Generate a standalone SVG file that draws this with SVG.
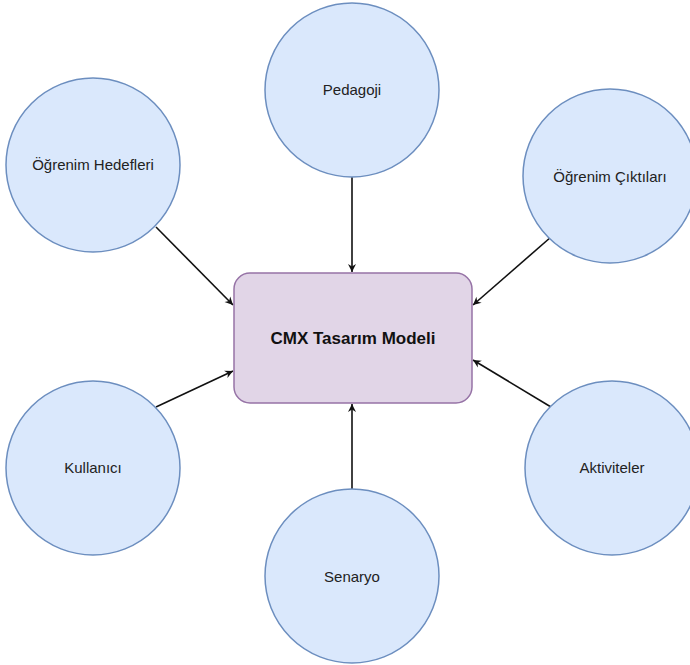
<svg xmlns="http://www.w3.org/2000/svg" width="690" height="665" viewBox="0 0 690 665">
<defs>
<marker id="arr" markerWidth="10" markerHeight="10" refX="9" refY="5" orient="auto" markerUnits="userSpaceOnUse">
<path d="M1,1 L9,5 L1,9 L3.5,5 Z" fill="#111"/>
</marker>
</defs>
<style>
.c{fill:#dae8fc;stroke:#6c8ebf;stroke-width:1.5}
.r{fill:#e1d5e7;stroke:#9673a6;stroke-width:1.5}
.t{font-family:"Liberation Sans",Arial,sans-serif;font-size:15px;fill:#222;text-anchor:middle;dominant-baseline:central}
.b{font-family:"Liberation Sans",Arial,sans-serif;font-size:17px;font-weight:bold;fill:#111;text-anchor:middle;dominant-baseline:central}
.e{stroke:#111;stroke-width:1.6;fill:none;marker-end:url(#arr)}
</style>
<rect width="690" height="665" fill="#fff"/>
<g id="connectors">
<line class="e" x1="352" y1="177" x2="352" y2="272"/>
<line class="e" x1="156" y1="227" x2="233" y2="305"/>
<line class="e" x1="551" y1="237" x2="473" y2="305"/>
<line class="e" x1="156" y1="407" x2="233" y2="371"/>
<line class="e" x1="352" y1="490" x2="352" y2="404"/>
<line class="e" x1="551" y1="407" x2="473" y2="360"/>
</g>
<g id="center">
<rect class="r" x="234" y="273" width="238" height="130" rx="16"/>
<text class="b" x="353" y="338">CMX Tasarım Modeli</text>
</g>
<g id="pedagoji">
<circle class="c" cx="352" cy="90" r="87"/>
<text class="t" x="352" y="89">Pedagoji</text>
</g>
<g id="hedefleri">
<circle class="c" cx="93" cy="165" r="87"/>
<text class="t" x="93" y="164">Öğrenim Hedefleri</text>
</g>
<g id="ciktilari">
<circle class="c" cx="610" cy="176" r="87"/>
<text class="t" x="610" y="176">Öğrenim Çıktıları</text>
</g>
<g id="kullanici">
<circle class="c" cx="93" cy="468" r="87"/>
<text class="t" x="93" y="467">Kullanıcı</text>
</g>
<g id="aktiviteler">
<circle class="c" cx="612" cy="468" r="87"/>
<text class="t" x="612" y="467">Aktiviteler</text>
</g>
<g id="senaryo">
<circle class="c" cx="352" cy="576" r="87"/>
<text class="t" x="352" y="576">Senaryo</text>
</g>
</svg>
